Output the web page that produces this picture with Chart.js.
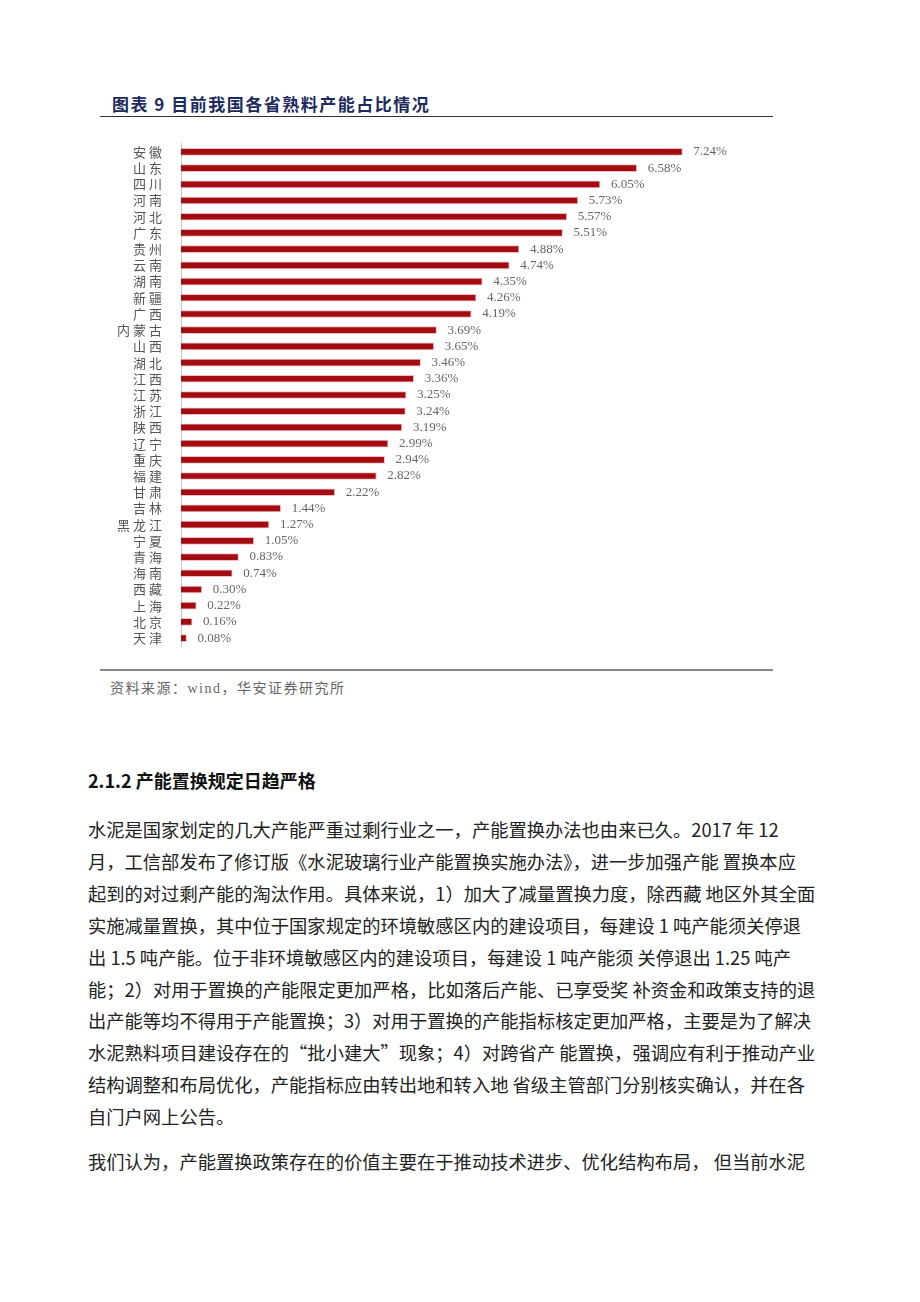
<!DOCTYPE html>
<html>
<head>
<meta charset="utf-8">
<script src="https://cdn.jsdelivr.net/npm/chart.js@4/dist/chart.umd.min.js"></script>
<style>
  body { margin: 0; background: #fff; width: 920px; height: 1302px; position: relative; overflow: hidden; font-family: "Noto Sans CJK SC", sans-serif; }
  .abs { position: absolute; white-space: nowrap; }
  #title { left: 112px; top: 91px; font-size: 17px; font-weight: bold; color: #1d2a5c; letter-spacing: 1.5px; }
  #titleLine { left: 100px; top: 116px; width: 673px; height: 1px; background: #333; }
  #chartBox { left: 100px; top: 128px; width: 673px; height: 534px; }
  #srcLine { left: 100px; top: 669px; width: 673px; height: 2px; background: #888; }
  #source { left: 110px; top: 677px; font-size: 14px; color: #666; letter-spacing: 1.5px; font-family: "Liberation Serif", "Noto Sans CJK SC", serif; }
  #heading { left: 88px; top: 767px; font-size: 18px; font-weight: bold; color: #111; }
  .body { left: 88px; font-size: 18.3px; color: #222; }
</style>
</head>
<body>
<div class="abs" id="title">图表 9 目前我国各省熟料产能占比情况</div>
<div class="abs" id="titleLine"></div>
<div class="abs" id="chartBox"><canvas id="capacityChart"></canvas></div>
<div class="abs" id="srcLine"></div>
<div class="abs" id="source">资料来源：wind，华安证券研究所</div>
<div class="abs" id="heading">2.1.2 产能置换规定日趋严格</div>
<div id="bodyText"></div>

<script>
// =========================
// DADOS
// =========================

const provinces = ["安徽", "山东", "四川", "河南", "河北", "广东", "贵州", "云南", "湖南", "新疆",
    "广西", "内蒙古", "山西", "湖北", "江西", "江苏", "浙江", "陕西", "辽宁", "重庆",
    "福建", "甘肃", "吉林", "黑龙江", "宁夏", "青海", "海南", "西藏", "上海", "北京", "天津"];

const shares = [7.24, 6.58, 6.05, 5.73, 5.57, 5.51, 4.88, 4.74, 4.35, 4.26,
    4.19, 3.69, 3.65, 3.46, 3.36, 3.25, 3.24, 3.19, 2.99, 2.94,
    2.82, 2.22, 1.44, 1.27, 1.05, 0.83, 0.74, 0.30, 0.22, 0.16, 0.08];

const bodyLines = [
    "水泥是国家划定的几大产能严重过剩行业之一，产能置换办法也由来已久。2017 年 12",
    "月，工信部发布了修订版《水泥玻璃行业产能置换实施办法》，进一步加强产能 置换本应",
    "起到的对过剩产能的淘汰作用。具体来说，1）加大了减量置换力度，除西藏 地区外其全面",
    "实施减量置换，其中位于国家规定的环境敏感区内的建设项目，每建设 1 吨产能须关停退",
    "出 1.5 吨产能。位于非环境敏感区内的建设项目，每建设 1 吨产能须 关停退出 1.25 吨产",
    "能；2）对用于置换的产能限定更加严格，比如落后产能、已享受奖 补资金和政策支持的退",
    "出产能等均不得用于产能置换；3）对用于置换的产能指标核定更加严格，主要是为了解决",
    "水泥熟料项目建设存在的“批小建大”现象；4）对跨省产 能置换，强调应有利于推动产业",
    "结构调整和布局优化，产能指标应由转出地和转入地 省级主管部门分别核实确认，并在各",
    "自门户网上公告。"
];
const bodyLines2 = [
    "我们认为，产能置换政策存在的价值主要在于推动技术进步、优化结构布局， 但当前水泥"
];

// texto do corpo
const bodyBox = document.getElementById("bodyText");
bodyLines.forEach((t, i) => {
    const d = document.createElement("div");
    d.className = "abs body";
    d.style.top = (816 + i * 31.9) + "px";
    d.textContent = t;
    bodyBox.appendChild(d);
});
bodyLines2.forEach((t, i) => {
    const d = document.createElement("div");
    d.className = "abs body";
    d.style.top = (1148 + i * 31.9) + "px";
    d.textContent = t;
    bodyBox.appendChild(d);
});

// =========================
// RÓTULOS DE VALOR
// =========================

const labelSpacing = {
    id: "labelSpacing",
    beforeDraw(chart) {
        chart.ctx.letterSpacing = "3px";
    }
};

const valueLabels = {
    id: "valueLabels",
    afterDatasetsDraw(chart) {
        const ctx = chart.ctx;
        const meta = chart.getDatasetMeta(0);
        ctx.save();
        ctx.letterSpacing = "0px";
        ctx.font = "13px 'Liberation Serif'";
        ctx.fillStyle = "#666";
        ctx.textBaseline = "middle";
        meta.data.forEach((bar, i) => {
            ctx.fillText(shares[i].toFixed(2) + "%", bar.x + 11, bar.y);
        });
        ctx.restore();
    }
};

// =========================
// GRÁFICO
// =========================

new Chart(document.getElementById("capacityChart"), {
    type: "bar",
    data: {
        labels: provinces,
        datasets: [{
            data: shares,
            backgroundColor: "#a30d12",
            borderColor: "rgba(235,140,150,0.6)",
            borderWidth: 1,
            barThickness: 7
        }]
    },
    options: {
        indexAxis: "y",
        responsive: true,
        maintainAspectRatio: false,
        animation: false,
        layout: { padding: { top: 1, bottom: 1, right: 38 } },
        plugins: {
            legend: { display: false },
            tooltip: { enabled: false }
        },
        scales: {
            x: {
                display: false,
                min: 0,
                max: 8
            },
            y: {
                afterFit: (scale) => { scale.width = 81; },
                grid: { display: false },
                border: { display: true, color: "#c8c8c8" },
                ticks: {
                    autoSkip: false,
                    color: "#555",
                    padding: 8,
                    font: { family: "Noto Sans CJK SC", size: 13 }
                }
            }
        }
    },
    plugins: [labelSpacing, valueLabels]
});
</script>
</body>
</html>
